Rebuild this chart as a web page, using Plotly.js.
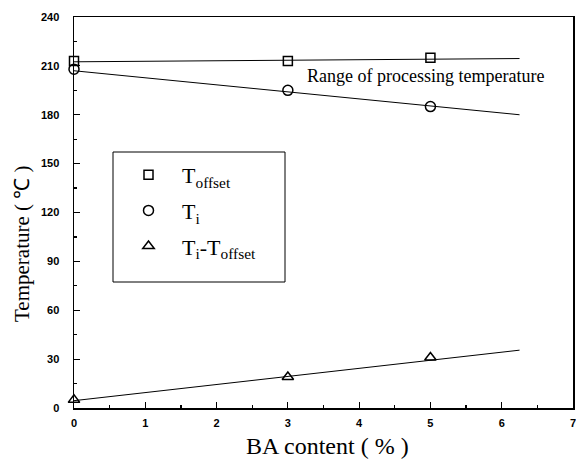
<!DOCTYPE html>
<html>
<head>
<meta charset="utf-8">
<script src="https://cdn.plot.ly/plotly-3.0.1.min.js"></script>
<style>html,body{margin:0;padding:0;background:#fff;}</style>
</head>
<body>
<div id="chart" style="width:576px;height:460px;"></div>
<script>
// Measured data points
const baContent = [0, 3, 5];
const tOffset = [213, 213, 215];
const tI = [208, 195, 185];
const tDiff = [5, 19, 31];

// Fitted lines (endpoints)
const fitX = [0, 6.25];
const fitOffset = [212.5, 214.5];
const fitI = [207, 180];
const fitDiff = [4.5, 35.5];

const seriesNames = ['T<sub>offset</sub>', 'T<sub>i</sub>', 'T<sub>i</sub>-T<sub>offset</sub>'];
const xTicks = [0, 1, 2, 3, 4, 5, 6, 7];
const yTicks = [0, 30, 60, 90, 120, 150, 180, 210, 240];
const xTitle = 'BA content ( % )';
const yTitle = 'Temperature ( ℃ )';
const note = 'Range of processing temperature';

const serif = 'Liberation Serif, Times New Roman, serif';
const sans = 'Liberation Sans, Arial, sans-serif';
const lineStyle = {color: '#000', width: 1};
const traces = [
  {x: fitX, y: fitOffset, mode: 'lines', line: lineStyle, showlegend: false, hoverinfo: 'skip'},
  {x: fitX, y: fitI, mode: 'lines', line: lineStyle, showlegend: false, hoverinfo: 'skip'},
  {x: fitX, y: fitDiff, mode: 'lines', line: lineStyle, showlegend: false, hoverinfo: 'skip'},
  {x: baContent, y: tOffset, mode: 'markers', name: seriesNames[0], legendgroup: 'a',
   marker: {symbol: 'square-open', size: 9, color: '#000', line: {width: 1.5, color: '#000'}}, cliponaxis: false},
  {x: baContent, y: tI, mode: 'markers', name: seriesNames[1], legendgroup: 'b',
   marker: {symbol: 'circle-open', size: 10, color: '#000', line: {width: 1.5, color: '#000'}}, cliponaxis: false},
  {x: baContent, y: tDiff, mode: 'markers', name: seriesNames[2], legendgroup: 'c',
   marker: {symbol: 'triangle-up-open', size: 10, color: '#000', line: {width: 1.5, color: '#000'}}, cliponaxis: false}
];

// figure-pixel helpers (plot area: x 74..573, y 17..408)
const pw = 576 - 74 - 3, ph = 460 - 17 - 52;
const fx = px => (px - 74) / pw;
const fy = py => (408 - py) / ph;

const layout = {
  width: 576, height: 460,
  margin: {l: 74, r: 3, t: 17, b: 52},
  paper_bgcolor: '#fff', plot_bgcolor: '#fff',
  showlegend: true,
  legend: {
    x: fx(115), y: fy(154), xanchor: 'left', yanchor: 'top',
    borderwidth: 0, bgcolor: 'rgba(0,0,0,0)',
    font: {family: serif, size: 22, color: '#000'},
    tracegroupgap: 4, itemwidth: 57
  },
  shapes: [{
    type: 'rect', xref: 'paper', yref: 'paper',
    x0: fx(113), x1: fx(285), y0: fy(152), y1: fy(282),
    line: {color: '#000', width: 1}, fillcolor: 'rgba(0,0,0,0)', layer: 'above'
  }],
  xaxis: {
    range: [0, 7], tickvals: xTicks, ticktext: xTicks.map(String),
    ticks: 'inside', ticklen: 6, tickwidth: 1.2, tickcolor: '#000',
    minor: {dtick: 0.5, ticks: 'inside', ticklen: 3, tickcolor: '#000'},
    showline: true, linecolor: '#000', linewidth: 1.5, mirror: true,
    showgrid: false, zeroline: false, ticklabeloverflow: 'allow',
    ticklabelstandoff: 4,
    tickfont: {family: sans, size: 11, color: '#000', weight: 'bold'}
  },
  yaxis: {
    range: [0, 240], tickvals: yTicks, ticktext: yTicks.map(String),
    ticks: 'inside', ticklen: 6, tickwidth: 1.2, tickcolor: '#000',
    minor: {dtick: 15, ticks: 'inside', ticklen: 3, tickcolor: '#000'},
    showline: true, linecolor: '#000', linewidth: 1.5, mirror: true,
    showgrid: false, zeroline: false, ticklabeloverflow: 'allow',
    ticklabelstandoff: 11,
    tickfont: {family: sans, size: 11, color: '#000', weight: 'bold'}
  },
  annotations: [
    {x: 3.24, y: 204, xref: 'x', yref: 'y', xanchor: 'left', yanchor: 'middle',
     text: note, showarrow: false, font: {family: serif, size: 18, color: '#000'}},
    {x: fx(327), y: fy(446), xref: 'paper', yref: 'paper', xanchor: 'center', yanchor: 'middle',
     text: xTitle, showarrow: false, font: {family: serif, size: 24, color: '#000'}},
    {x: fx(22), y: fy(244), xref: 'paper', yref: 'paper', xanchor: 'center', yanchor: 'middle',
     text: yTitle, textangle: -90, showarrow: false, font: {family: serif, size: 21, color: '#000'}}
  ]
};

Plotly.newPlot('chart', traces, layout, {displayModeBar: false, staticPlot: true});
</script>
</body>
</html>
